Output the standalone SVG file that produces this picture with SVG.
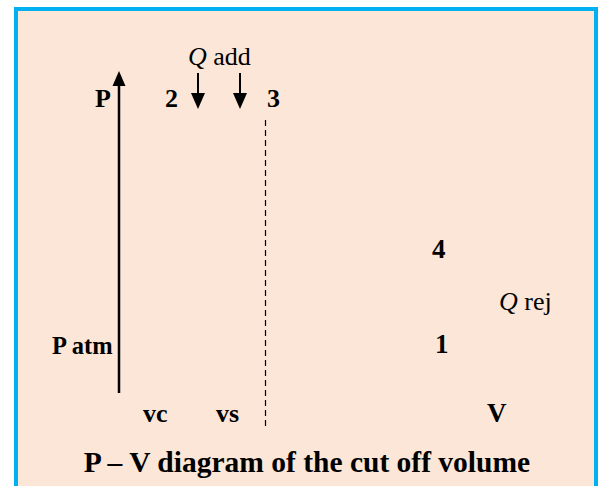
<svg xmlns="http://www.w3.org/2000/svg" width="602" height="486" viewBox="0 0 602 486">
  <style>
    .b { font-family: "Liberation Serif", "Times New Roman", serif; font-weight: bold; fill: #000; }
    .n { font-family: "Liberation Serif", "Times New Roman", serif; fill: #000; }
    .i { font-style: italic; }
  </style>
  <rect x="0" y="0" width="602" height="486" fill="#ffffff"/>
  <rect id="frame" x="16" y="9" width="580" height="490" fill="#FBE6D7" stroke="#00B0F0" stroke-width="4"/>
  <g id="connectors">
    <line x1="119" y1="393" x2="119" y2="84" stroke="#000" stroke-width="2.5"/>
    <path d="M112.5,86 L125.5,86 L119,71 Z" fill="#000"/>
    <line x1="198" y1="73" x2="198" y2="94" stroke="#000" stroke-width="2"/>
    <path d="M191,93 L205,93 L198,109 Z" fill="#000"/>
    <line x1="240" y1="73" x2="240" y2="94" stroke="#000" stroke-width="2"/>
    <path d="M233,93 L247,93 L240,109 Z" fill="#000"/>
    <line x1="265.5" y1="120" x2="265.5" y2="430" stroke="#000" stroke-width="1.2" stroke-dasharray="6,4"/>
  </g>
  <g id="label-P"><text class="b" x="95" y="107" font-size="26">P</text></g>
  <g id="node-2"><text class="b" x="165" y="107" font-size="26">2</text></g>
  <g id="node-3"><text class="b" x="267" y="107" font-size="26">3</text></g>
  <g id="label-Qadd"><text class="n" x="188" y="65" font-size="26"><tspan class="i">Q</tspan> add</text></g>
  <g id="node-4"><text class="b" x="432" y="258" font-size="27">4</text></g>
  <g id="label-Qrej"><text class="n" x="499" y="310" font-size="26"><tspan class="i">Q</tspan> rej</text></g>
  <g id="node-1"><text class="b" x="435" y="353" font-size="27">1</text></g>
  <g id="label-Patm"><text class="b" x="52" y="354" font-size="24.5">P atm</text></g>
  <g id="label-vc"><text class="b" x="143" y="422" font-size="26">vc</text></g>
  <g id="label-vs"><text class="b" x="216" y="422" font-size="26">vs</text></g>
  <g id="label-V"><text class="b" x="487" y="422" font-size="27">V</text></g>
  <g id="title"><text class="b" x="307" y="472" font-size="29.5" text-anchor="middle">P – V diagram of the cut off volume</text></g>
</svg>
